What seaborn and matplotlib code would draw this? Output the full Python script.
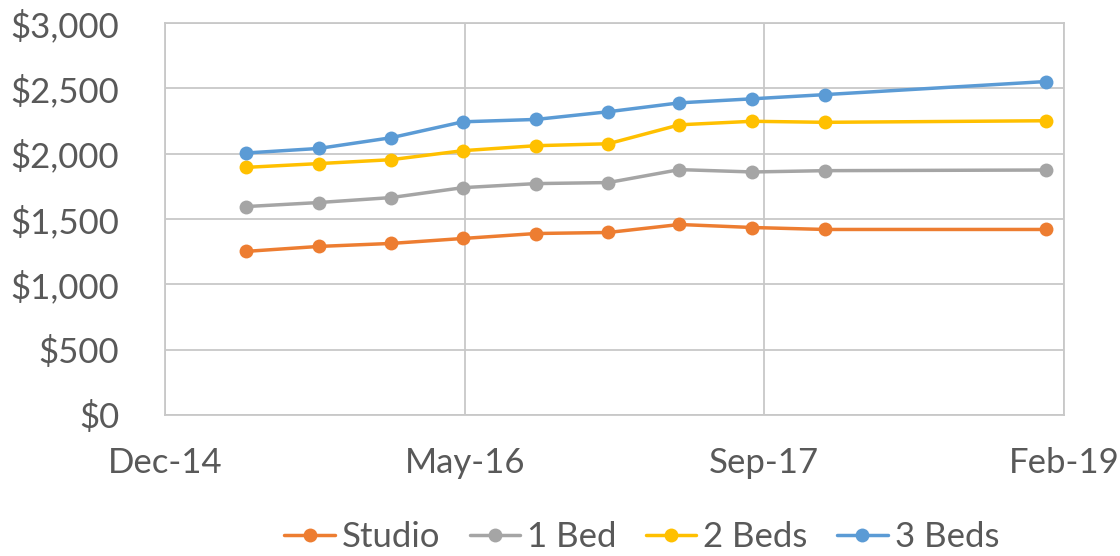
import pandas as pd
import matplotlib.pyplot as plt
import matplotlib.dates as mdates
from matplotlib.ticker import FuncFormatter
import seaborn as sns

# Average rent by unit type
dates = pd.to_datetime(['2015-04-30', '2015-08-31', '2015-12-31', '2016-04-30', '2016-08-31',
                        '2016-12-31', '2017-04-30', '2017-08-31', '2017-12-31', '2019-01-07'])
studio = [1252, 1290, 1313, 1351, 1389, 1397, 1458, 1435, 1420, 1420]
one_bed = [1595, 1626, 1664, 1740, 1771, 1779, 1878, 1860, 1870, 1875]
two_beds = [1895, 1924, 1954, 2023, 2061, 2076, 2221, 2248, 2240, 2252]
three_beds = [2005, 2040, 2122, 2244, 2262, 2321, 2389, 2420, 2452, 2552]
series = ['Studio', '1 Bed', '2 Beds', '3 Beds']
colors = ['#ED7D31', '#A5A5A5', '#FFC000', '#5B9BD5']

df = pd.DataFrame({'Date': list(dates) * 4,
                   'Rent': studio + one_bed + two_beds + three_beds,
                   'Type': [s for s in series for _ in dates]})

sns.set_style('white')
plt.rcParams['font.family'] = ['Lato', 'DejaVu Sans']
text_color = '#595959'
grid_color = '#C8C8C8'

fig = plt.figure(figsize=(11.2, 5.56), dpi=100)
ax = fig.add_axes([0.1473, 0.2536, 0.8027, 0.705])

sns.lineplot(data=df, x='Date', y='Rent', hue='Type', hue_order=series,
             palette=colors, marker='o', markersize=10, markeredgewidth=0,
             linewidth=2.5, ax=ax, legend=True)

# x axis: Excel-style date axis, ticks every 505 days
tick_start = pd.Timestamp('2014-12-15')
ticks = [tick_start + pd.Timedelta(days=505 * i) for i in range(4)]
ax.set_xticks(ticks)
ax.set_xlim(ticks[0], ticks[-1])
ax.xaxis.set_major_formatter(mdates.DateFormatter('%b-%y'))

ax.set_ylim(0, 3000)
ax.set_yticks(range(0, 3001, 500))
ax.yaxis.set_major_formatter(FuncFormatter(lambda v, p: f'${v:,.0f}'))

ax.grid(True, color=grid_color, linewidth=1.3)
for s in ax.spines.values():
    s.set_color(grid_color)
    s.set_linewidth(1.3)

ax.tick_params(axis='both', length=0, labelsize=25, labelcolor=text_color)
ax.tick_params(axis='x', pad=23)
ax.tick_params(axis='y', pad=33)
ax.set_xlabel('')
ax.set_ylabel('')

handles, labels = ax.get_legend_handles_labels()
ax.legend_.remove()
fig.legend(handles, labels, loc='center', bbox_to_anchor=(0.573, 0.034), ncol=4,
           frameon=False, fontsize=25, labelcolor=text_color, handlelength=1.45,
           handletextpad=0.2, columnspacing=0.85)

fig.savefig('out.png', dpi=100)
